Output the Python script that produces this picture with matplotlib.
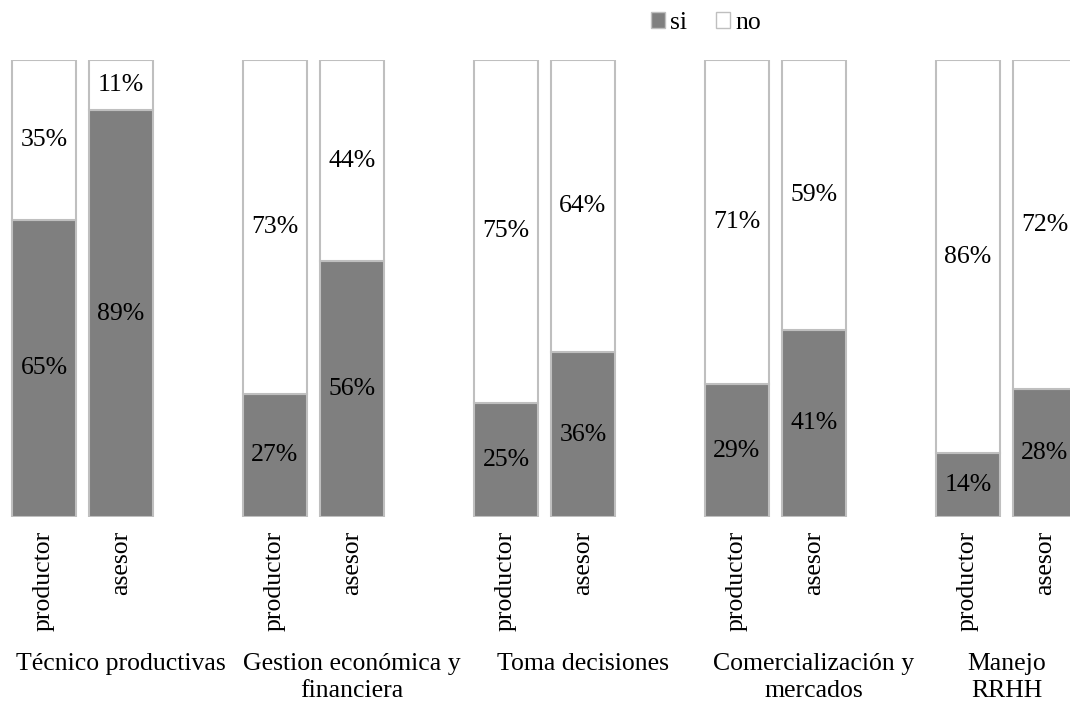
import numpy as np
import matplotlib.pyplot as plt
from matplotlib.patches import Patch

plt.rcParams['font.family'] = ['Liberation Serif', 'DejaVu Serif']

# Datos: porcentaje "si" / "no" por grupo (productor, asesor)
categorias = ["Técnico productivas", "Gestion económica y\nfinanciera", "Toma decisiones",
              "Comercialización y\nmercados", "Manejo\nRRHH"]
grupos = ["productor", "asesor"]
si = [[65, 89], [27, 56], [25, 36], [29, 41], [14, 28]]
no = [[35, 11], [73, 44], [75, 64], [71, 59], [86, 72]]

gris = '#7f7f7f'
borde = '#bfbfbf'
fs = 18.5

fig = plt.figure(figsize=(10.7, 7.04), dpi=100)
ax = fig.add_axes([0, (704 - 517) / 704, 1, (517 - 60) / 704])

xs, etiquetas = [], []
for g in range(len(categorias)):
    for j in range(len(grupos)):
        x = 3 * g + j
        xs.append(x)
        etiquetas.append(grupos[j])
        s, n = si[g][j], no[g][j]
        ax.bar(x, s, width=0.83, color=gris, edgecolor=borde, linewidth=1.5)
        ax.bar(x, n, bottom=s, width=0.83, color='white', edgecolor=borde, linewidth=1.5)
        ax.text(x, s / 2, f"{s}%", ha='center', va='center', fontsize=fs)
        ax.text(x, s + n / 2, f"{n}%", ha='center', va='center', fontsize=fs)

ax.set_xlim(-0.571, 13.325)
ax.set_ylim(0, 100)
ax.set_xticks(xs)
ax.set_xticklabels(etiquetas, rotation=90, fontsize=fs)
ax.tick_params(axis='x', length=0, pad=10)
ax.set_yticks([])
for sp in ax.spines.values():
    sp.set_visible(False)

# etiquetas de categoría
xmax = ax.get_xlim()[1]
for g, cat in enumerate(categorias):
    cx = 3 * g + 1
    if 3 * g + 2.5 > xmax:
        cx = 3 * g + 0.5
    ax.text(cx, -29.8, cat, ha='center', va='top', fontsize=fs, linespacing=1.3)

handles = [Patch(facecolor=gris, edgecolor=borde, label='si'),
           Patch(facecolor='white', edgecolor=borde, label='no')]
fig.legend(handles=handles, loc='center', bbox_to_anchor=(706 / 1070, 1 - 23 / 704), ncol=2,
           frameon=False, fontsize=fs, handlelength=0.55, handleheight=0.55,
           handletextpad=0.2, columnspacing=1.1, borderpad=0)

fig.savefig('out.png', dpi=100)
